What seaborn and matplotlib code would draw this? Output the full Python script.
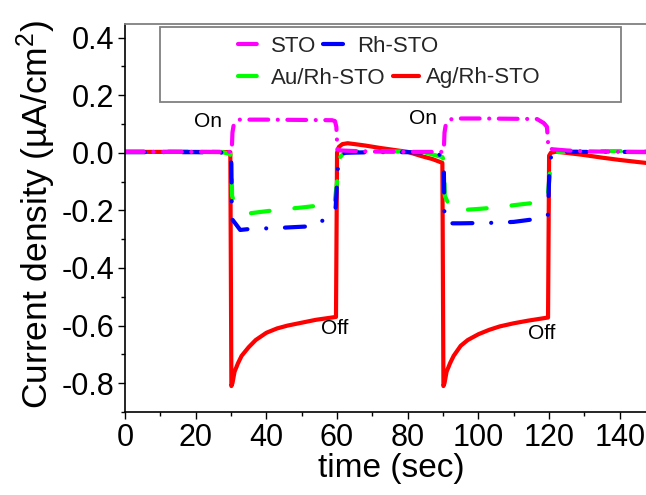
import matplotlib
matplotlib.use("Agg")
import matplotlib.pyplot as plt
from matplotlib.patches import Rectangle
from matplotlib.lines import Line2D
from matplotlib.ticker import MultipleLocator
import seaborn as sns
import pandas as pd

# ---------------- data ----------------
SERIES = ["STO", "Rh-STO", "Au/Rh-STO", "Ag/Rh-STO"]
COLORS = ["#FF00FF", "#0000FF", "#00FF00", "#FF0000"]

TIME_STO = [0, 10, 20, 29.6, 30.2, 30.4, 30.8, 31.4, 32.5, 40, 50, 58.6, 59.4, 59.8, 60.1,
            61, 65, 70, 80, 89.8, 90.2, 90.4, 90.8, 91.5, 93, 100, 110, 116.6, 118.5,
            119.4, 119.8, 121, 125, 130, 140, 148]
CUR_STO = [0.003, 0.003, 0.003, 0.003, 0.004, 0.07, 0.1, 0.11, 0.115, 0.115, 0.114, 0.113,
           0.11, 0.09, 0.012, 0.008, 0.006, 0.004, 0.003, 0.003, 0.004, 0.07, 0.1, 0.113,
           0.119, 0.119, 0.118, 0.117, 0.103, 0.09, 0.016, 0.012, 0.008, 0.005, 0.003, 0.002]

TIME_RH = [0, 10, 20, 29.8, 30.1, 30.25, 31.5, 32.6, 35, 45, 53, 56, 59, 59.6, 60.2, 60.5,
           61.5, 62.4, 70, 80, 88.6, 89.7, 90.2, 90.4, 92, 95, 105, 110, 115, 119.7, 120.1,
           120.6, 122, 130, 140, 148]
CUR_RH = [0.002, 0.002, 0.002, 0.0, -0.04, -0.23, -0.25, -0.268, -0.265, -0.26, -0.255,
          -0.235, -0.2, -0.19, -0.06, -0.015, -0.004, 0.0, 0.002, 0.002, 0.0, -0.02, -0.035,
          -0.24, -0.245, -0.245, -0.243, -0.24, -0.232, -0.215, -0.05, -0.01, 0.003, 0.003,
          0.003, 0.003]

TIME_AU = [0, 10, 20, 27.4, 29.8, 30.1, 30.3, 31, 33, 35.4, 40, 45, 50, 55, 59.3, 60.0,
           60.5, 62, 65, 70, 80, 84.5, 89.8, 90.2, 90.5, 92, 94, 100, 105, 110, 115,
           119.5, 120.0, 120.6, 122, 130, 140, 148]
CUR_AU = [0.005, 0.005, 0.004, 0.003, -0.005, -0.02, -0.15, -0.175, -0.2, -0.21, -0.203,
          -0.196, -0.19, -0.183, -0.175, -0.1, -0.02, 0.0, 0.005, 0.005, 0.004, 0.002,
          -0.015, -0.025, -0.15, -0.19, -0.2, -0.195, -0.19, -0.182, -0.175, -0.162, -0.1,
          -0.02, 0.002, 0.005, 0.006, 0.005]

TIME_AG = [0, 10, 20, 29.8, 30.1, 30.4, 31, 32, 33, 35, 37, 40, 43, 46, 50, 54, 59.7, 60.0,
           60.5, 61.5, 63, 65, 68, 72, 76, 80, 84, 87, 89.8, 90.1, 90.4, 91, 92, 93, 95, 97,
           100, 103, 106, 110, 114, 119.7, 120.0, 120.5, 122, 126, 130, 135, 140, 145, 148]
CUR_AG = [0.003, 0.003, 0.003, 0.002, -0.81, -0.80, -0.76, -0.73, -0.705, -0.675, -0.65,
          -0.625, -0.61, -0.60, -0.59, -0.58, -0.57, 0.0, 0.02, 0.03, 0.033, 0.03, 0.025,
          0.017, 0.01, 0.003, -0.012, -0.022, -0.035, -0.81, -0.80, -0.76, -0.73, -0.705,
          -0.67, -0.65, -0.63, -0.615, -0.603, -0.592, -0.583, -0.572, -0.01, 0.0, 0.004,
          -0.002, -0.008, -0.017, -0.025, -0.032, -0.036]

X_TICKS = [0, 20, 40, 60, 80, 100, 120, 140]
Y_TICKS = [-0.8, -0.6, -0.4, -0.2, 0.0, 0.2, 0.4]
Y_TICK_LABELS = ["-0.8", "-0.6", "-0.4", "-0.2", "0.0", "0.2", "0.4"]

ANNOTATIONS = [("On", 23.5, 0.107), ("On", 84.4, 0.12), ("Off", 59.2, -0.61), ("Off", 118.0, -0.627)]

# ---------------- style ----------------
sns.set_theme(style="ticks")
plt.rcParams["font.family"] = ["Liberation Sans", "DejaVu Sans"]
plt.rcParams["axes.unicode_minus"] = False
plt.rcParams["mathtext.fontset"] = "custom"
plt.rcParams["mathtext.rm"] = "Liberation Sans"
plt.rcParams["mathtext.it"] = "Liberation Sans:italic"
plt.rcParams["mathtext.default"] = "rm"

fig = plt.figure(figsize=(6.46, 4.95), dpi=100)
ax = fig.add_axes([0.1935, 0.1677, 0.8075, 0.7838])

LW = 3.0
DASHES = {
    "STO": (0, (4.5, 2.3, 0.01, 2.3)),
    "Rh-STO": (0, (4.8, 4.5, 0.01, 4.5)),
    "Au/Rh-STO": (0, (4.5, 6.0)),
    "Ag/Rh-STO": "-",
}
data = {
    "STO": (TIME_STO, CUR_STO),
    "Rh-STO": (TIME_RH, CUR_RH),
    "Au/Rh-STO": (TIME_AU, CUR_AU),
    "Ag/Rh-STO": (TIME_AG, CUR_AG),
}
color_of = dict(zip(SERIES, COLORS))

# draw order: red at the bottom, magenta on top
for name in ["Ag/Rh-STO", "Au/Rh-STO", "Rh-STO", "STO"]:
    t, c = data[name]
    df = pd.DataFrame({"t": t, "c": c})
    n_before = len(ax.lines)
    sns.lineplot(data=df, x="t", y="c", ax=ax, estimator=None, sort=False,
                 color=color_of[name], linewidth=LW)
    line = ax.lines[n_before]
    line.set_linestyle(DASHES[name])
    line.set_dash_capstyle("round")
    line.set_solid_capstyle("round")
    line.set_solid_joinstyle("round")

ax.set_xlim(0, 147.6)
ax.set_ylim(-0.90, 0.447)
ax.set_xticks(X_TICKS)
ax.set_yticks(Y_TICKS)
ax.set_yticklabels(Y_TICK_LABELS)
ax.xaxis.set_minor_locator(MultipleLocator(10))
ax.yaxis.set_minor_locator(MultipleLocator(0.1))
ax.tick_params(axis="both", which="major", direction="out", length=5, width=1.0,
               labelsize=22, color="black", labelcolor="black", pad=3)
ax.tick_params(axis="both", which="minor", direction="out", length=3, width=1.0, color="black")

for s in ["left", "bottom"]:
    ax.spines[s].set_color("black")
    ax.spines[s].set_linewidth(1.2)
ax.spines["top"].set_visible(True)
ax.spines["top"].set_color("#808080")
ax.spines["top"].set_linewidth(1.3)
ax.spines["right"].set_visible(False)

ax.set_xlabel("time (sec)", fontsize=24, color="black")
ax.set_ylabel("Current density (\u00b5A/cm$^{2}$)", fontsize=25.5, color="black")
ax.xaxis.set_label_coords(0.51, -0.105)
ax.yaxis.set_label_coords(-0.128, 0.51)

for txt, tx, ty in ANNOTATIONS:
    ax.text(tx, ty, txt, fontsize=15, ha="center", va="center", color="black")

# legend box
ax.add_patch(Rectangle((0.0675, 0.80), 0.883, 0.192, transform=ax.transAxes,
                       fill=False, edgecolor="#808080", linewidth=1.3, zorder=5))

def handle(name):
    return Line2D([], [], color=color_of[name], linewidth=LW, linestyle=DASHES[name],
                  dash_capstyle="round", solid_capstyle="round")

rows = [(["STO", "Rh-STO"], 46), (["Au/Rh-STO", "Ag/Rh-STO"], 78)]
for names, ypix in rows:
    leg = fig.legend([handle(n) for n in names], names, ncol=2, frameon=False,
                     loc="center left", bbox_to_anchor=(238 / 646, 1 - ypix / 495),
                     bbox_transform=fig.transFigure, borderpad=0, borderaxespad=0,
                     handlelength=1.2, handletextpad=0.3, columnspacing=0.3,
                     prop={"size": 16, "family": ["Liberation Sans", "DejaVu Sans"]})

fig.savefig("out.png", dpi=100)
